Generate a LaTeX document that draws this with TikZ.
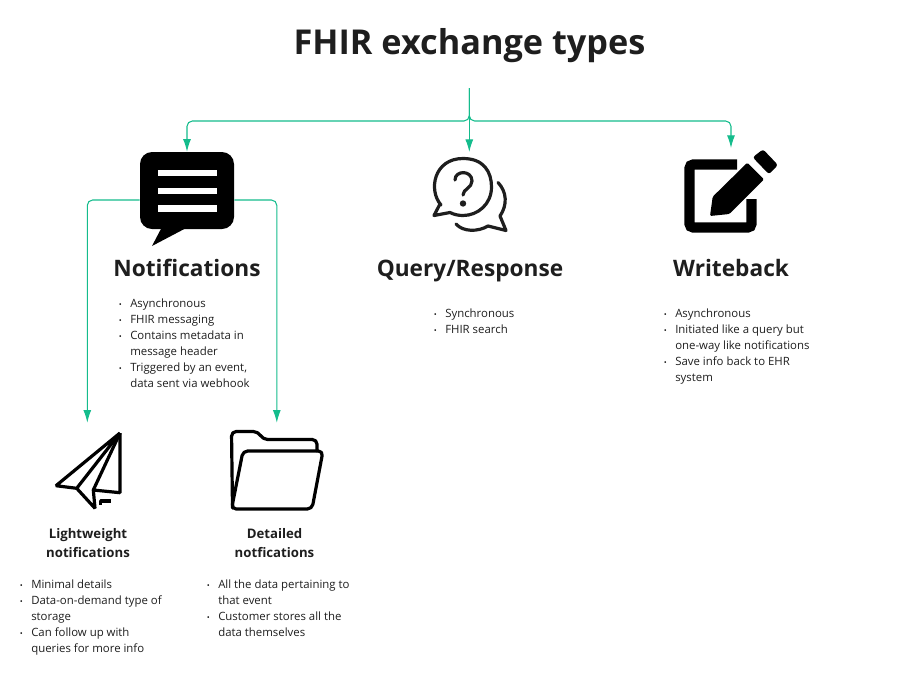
\documentclass[tikz,border=0pt]{standalone}
\usepackage{fontspec}
\setmainfont{Open Sans}
\usetikzlibrary{arrows.meta}
\definecolor{linkgreen}{HTML}{14BC8C}
\definecolor{inkdark}{HTML}{1E1E1E}
\newcommand{\bitem}{\llap{\raisebox{0.5pt}{\fontsize{6pt}{6pt}\selectfont\textbullet}\hspace{6.3pt}}}
\tikzset{
  link/.style={draw=linkgreen,line width=0.8pt,rounded corners=4pt},
  linkarrow/.style={link,-{Latex[length=9.5pt,width=6pt]}},
  titletext/.style={font=\fontsize{25.7pt}{30pt}\selectfont\bfseries,text=inkdark,inner sep=0pt,anchor=base},
  headtext/.style={font=\fontsize{17pt}{20pt}\selectfont\bfseries,text=inkdark,inner sep=0pt,anchor=base},
  subtext/.style={font=\fontsize{9.9pt}{14.4pt}\selectfont\bfseries,text=inkdark,inner sep=0pt,align=center},
  bullets/.style={font=\fontsize{8.55pt}{12pt}\selectfont,text=inkdark,inner sep=0pt,align=left,anchor=north west},
  iconline/.style={line width=2.4pt,line join=round,line cap=round}
}
\begin{document}
\begin{tikzpicture}[x=0.75pt,y=-0.75pt]
\useasboundingbox (0,0) rectangle (900,679);
\node[titletext] (title) at (469.5,54) {FHIR exchange types};
\node[fill=black,rounded corners=9pt,minimum width=70.5pt,minimum height=57.75pt,inner sep=0pt] (chat) at (187,190.5) {};
\fill (163,225) -- (152,246) -- (190,226) -- cycle;
\fill[white] (157.5,169.5) rectangle (217,176);
\fill[white] (157.5,187.5) rectangle (217,194);
\fill[white] (157.5,205) rectangle (217,212);
\coordinate (hub) at (469.3,88);
\coordinate (branch) at (469.3,121);
\coordinate (query) at (469.3,152);
\coordinate (writeback) at (731,148);
\coordinate (light) at (87.3,422.7);
\coordinate (detail) at (276.8,422.7);
\draw[linkarrow] (hub) -- (branch) -| (chat.north);
\draw[linkarrow] (hub) -- (query);
\draw[linkarrow] (hub) -- (branch) -| (writeback);
\draw[linkarrow] (chat.west |- 0,200) -| (light);
\draw[linkarrow] (chat.east |- 0,200) -| (detail);
% query icon
\begin{scope}[inkdark,iconline]
\draw (441,205) .. controls (428,190) and (434,158.5) .. (463,158.5) .. controls (484,158.5) and (491.5,172) .. (491.5,187) .. controls (491.5,204) and (478,215.5) .. (463,215.5) .. controls (458,215.5) and (454,214.5) .. (450,212.5) -- (434,215.5) -- (440,204);
\draw (498,182.5) .. controls (507,192) and (507.5,205) .. (500,216) -- (506,230.5) -- (488,226);
\draw (488,226) .. controls (478,232) and (463,232) .. (456,224);
\draw (455,180) .. controls (455,170) and (472,170) .. (472,181) .. controls (472,188) and (463,189) .. (463,195);
\fill (463,203.5) circle (3.2);
\end{scope}
% writeback icon
\draw[black,line width=7.8pt,rounded corners=3pt] (737,164.5) -- (689.5,164.5) -- (689.5,227.5) -- (751.5,227.5) -- (751.5,199);
\fill[black,rounded corners=1pt] (712.7,196.7) -- (747.3,162.7) -- (764,179.3) -- (729.3,214) -- (710,216) -- cycle;
\fill[black,rounded corners=2pt] (752.7,157.3) -- (763,149.3) -- (778,165) -- (769,174.3) -- cycle;
% lightweight icon
\begin{scope}[black,iconline,line cap=butt,line join=bevel]
\draw (120,433) -- (56,485.7) -- (76.7,488.3) -- cycle;
\draw (76.7,488.3) -- (95,508.3) -- (93.3,490) -- (120,433);
\draw (120,433) -- (120,492.7) -- (93.3,490);
\draw (100.7,505) -- (100.7,501) -- (111,501);
\end{scope}
% detailed icon
\begin{scope}[black,iconline,rounded corners=3.5pt]
\draw (232.5,508) -- (231.5,431.5) -- (258,431.5) -- (263,439.5) -- (317,439.5) -- (317,451);
\draw (243,451) -- (323,451) -- (312,509) -- (231.5,509) -- cycle;
\end{scope}
\node[headtext] (notifhead) at (187,276) {Notifications};
\node[headtext] (queryhead) at (470,276) {Query/Response};
\node[headtext] (writehead) at (731,276) {Writeback};
\node[bullets] (notiflist) at (130,299) {\bitem Asynchronous\\\bitem FHIR messaging\\\bitem Contains metadata in\\message header\\\bitem Triggered by an event,\\data sent via webhook};
\node[bullets] (querylist) at (445,309) {\bitem Synchronous\\\bitem FHIR search};
\node[bullets] (writelist) at (675,309) {\bitem Asynchronous\\\bitem Initiated like a query but\\one-way like notifications\\\bitem Save info back to EHR\\system};
\node[subtext] (lighthead) at (88,543) {Lightweight\\notifications};
\node[subtext] (detailhead) at (274.5,543) {Detailed\\notfications};
\node[bullets] (lightlist) at (31,580) {\bitem Minimal details\\\bitem Data-on-demand type of\\storage\\\bitem Can follow up with\\queries for more info};
\node[bullets] (detaillist) at (218,580) {\bitem All the data pertaining to\\that event\\\bitem Customer stores all the\\data themselves};
\end{tikzpicture}
\end{document}
